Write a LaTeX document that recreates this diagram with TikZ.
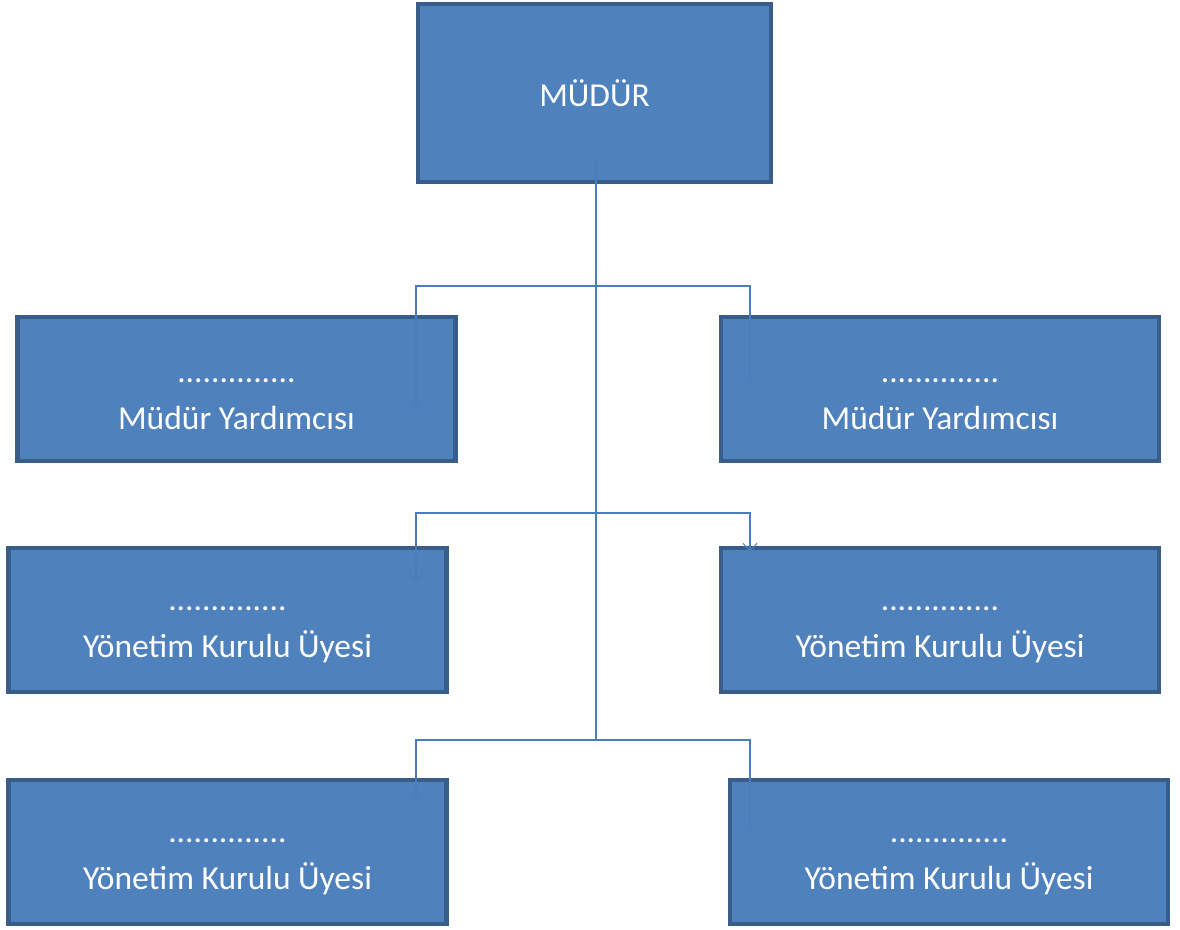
\documentclass[tikz,border=0pt]{standalone}
\usepackage{fontspec}
\setmainfont{Carlito}
\usetikzlibrary{arrows.meta}
\definecolor{boxfill}{HTML}{4F81BD}
\definecolor{boxline}{HTML}{385D8A}
\definecolor{linkblue}{HTML}{4A7EBB}
\newcommand{\topgap}{\rule{0pt}{34pt}}
\begin{document}
\begin{tikzpicture} [
        x=1pt, y=-1pt,
        box/.style={draw=boxline, fill=boxfill, rectangle, line width=4.5pt, text=white, align=center,
                    font=\fontsize{33.5}{47}\selectfont, minimum width=438pt, minimum height=144pt},
        link/.style={draw=linkblue, line width=1.5pt},
        tip/.style={-{Straight Barb[length=8pt,width=14pt,line width=1pt]}} ]
    \useasboundingbox (0,0) rectangle (1180,929);
    \node[box, minimum width=353pt, minimum height=178pt] (mudur) at (594.5,93) {MÜDÜR};
    \node[box] (yard1) at (236.5,389) {\topgap..............\\Müdür Yardımcısı};
    \node[box] (yard2) at (940,389) {\topgap..............\\Müdür Yardımcısı};
    \node[box] (uye1) at (227.5,620) {\topgap..............\\Yönetim Kurulu Üyesi};
    \node[box] (uye2) at (940,620) {\topgap..............\\Yönetim Kurulu Üyesi};
    \node[box] (uye3) at (227.5,852) {\topgap..............\\Yönetim Kurulu Üyesi};
    \node[box] (uye4) at (949,852) {\topgap..............\\Yönetim Kurulu Üyesi};
    % trunk and branch points
    \coordinate (top) at (596,160);
    \coordinate (j1) at (596,286);
    \coordinate (j2) at (596,513);
    \coordinate (j3) at (596,740);
    \coordinate (a1) at (416,410);
    \coordinate (a2) at (750,385);
    \coordinate (a3) at (416,582);
    \coordinate (a4) at (750,552);
    \coordinate (a5) at (416,802);
    \coordinate (a6) at (750,832);
    \draw[link] (top) -- (j3);
    \draw[link, tip] (j1) -| (a1);
    \draw[link, tip] (j1) -| (a2);
    \draw[link, tip] (j2) -| (a3);
    \draw[link, tip] (j2) -| (a4);
    \draw[link, tip] (j3) -| (a5);
    \draw[link, tip] (j3) -| (a6);
\end{tikzpicture}
\end{document}
